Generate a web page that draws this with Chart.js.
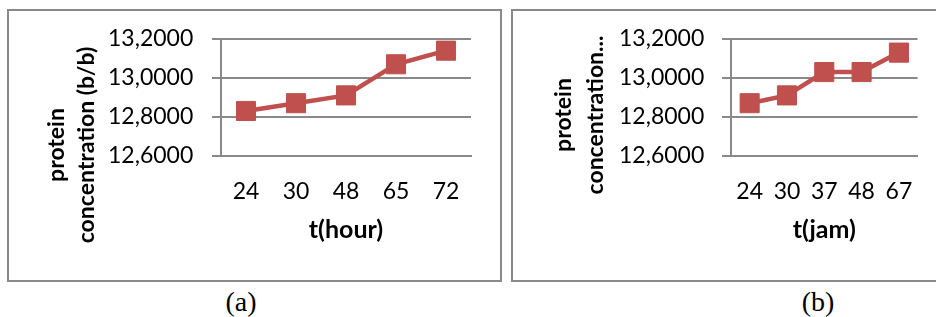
<!DOCTYPE html>
<html>
<head>
<meta charset="utf-8">
<script src="https://cdn.jsdelivr.net/npm/chart.js@4/dist/chart.umd.min.js"></script>
<style>
  html, body { margin: 0; padding: 0; background: #fff; width: 936px; height: 317px; overflow: hidden; }
  .box { position: absolute; box-sizing: border-box; border: 2px solid #898989; }
  canvas { position: absolute; }
  .cap { position: absolute; font-family: "Liberation Serif", "Times New Roman", serif; font-size: 28px; line-height: 28px; color: #000; text-align: center; width: 80px; white-space: nowrap; }
</style>
</head>
<body>
<div class="box" style="left:7px; top:9px; width:495px; height:273px;"></div>
<div class="box" style="left:511px; top:9px; width:440px; height:273px;"></div>
<canvas id="chartA" width="490" height="268" style="left:9px; top:11px;"></canvas>
<canvas id="chartB" width="423" height="268" style="left:513px; top:11px;"></canvas>
<div class="cap" style="left:201px; top:288px;">(a)</div>
<div class="cap" style="left:778px; top:288px;">(b)</div>
<script>
// ---- data ----
const categoriesA = ['24', '30', '48', '65', '72'];
const valuesA = [12.83, 12.87, 12.91, 13.07, 13.14];
const categoriesB = ['24', '30', '37', '48', '67'];
const valuesB = [12.87, 12.91, 13.03, 13.03, 13.13];
const yMin = 12.6;
const yMax = 13.2;
const yStep = 0.2;
const xTitleA = 't(hour)';
const xTitleB = 't(jam)';
const yTitleA = ['protein', 'concentration (b/b)'];
const yTitleB = ['protein', 'concentration...'];

const RED = '#C0504D';
const GRID = '#898989';
const FONT = 'Lato, Carlito, Calibri, "Open Sans", sans-serif';

function makeChart(id, cats, vals, xTitle, yTitle, geo) {
  const canvas = document.getElementById(id);
  const H = canvas.height, W = canvas.width;
  const yTitlePlugin = {
    id: 'yTitle' + id,
    afterDraw(chart) {
      const ctx = chart.ctx;
      ctx.save();
      ctx.font = 'bold 23px ' + FONT;
      ctx.fillStyle = '#000';
      ctx.textAlign = 'center';
      ctx.textBaseline = 'middle';
      yTitle.forEach((t, i) => {
        ctx.save();
        ctx.translate(geo.titleX[i], geo.titleY);
        ctx.rotate(-Math.PI / 2);
        ctx.fillText(t, 0, 0);
        ctx.restore();
      });
      ctx.restore();
    }
  };
  return new Chart(canvas, {
    type: 'line',
    data: {
      labels: cats,
      datasets: [{
        data: vals,
        borderColor: RED,
        backgroundColor: RED,
        borderWidth: 4.5,
        pointStyle: 'rect',
        pointRadius: 13.5,
        pointBorderWidth: 1,
        pointBackgroundColor: RED,
        pointBorderColor: RED,
        tension: 0,
        fill: false
      }]
    },
    options: {
      responsive: false,
      animation: false,
      devicePixelRatio: 1,
      layout: { padding: { left: geo.labelLeft, right: W - geo.plotRight, top: geo.plotTop, bottom: 0 } },
      plugins: { legend: { display: false }, tooltip: { enabled: false } },
      scales: {
        x: {
          type: 'category',
          offset: true,
          grid: { display: false, drawTicks: false },
          border: { display: true, color: GRID, width: 2 },
          ticks: { color: '#000', font: { family: FONT, size: 23 }, padding: 22, maxRotation: 0, autoSkip: false },
          title: { display: true, text: xTitle, color: '#000', font: { family: FONT, size: 25, weight: 'bold' }, padding: { top: 4, bottom: 34 } },
          afterFit(scale) { scale.height = H - geo.plotBottom; }
        },
        y: {
          min: yMin,
          max: yMax,
          grid: { color: GRID, lineWidth: 2, drawTicks: true, tickLength: 9, tickColor: GRID },
          border: { display: true, color: GRID, width: 2 },
          ticks: {
            stepSize: yStep,
            color: '#000',
            font: { family: FONT, size: 23 },
            padding: 0,
            crossAlign: 'far',
            callback: (v) => Number(v).toFixed(4).replace('.', ',')
          },
          afterFit(scale) { scale.width = geo.plotLeft - geo.labelLeft; }
        }
      }
    },
    plugins: [yTitlePlugin]
  });
}

makeChart('chartA', categoriesA, valuesA, xTitleA, yTitleA, {
  labelLeft: 99, plotLeft: 212, plotRight: 462, plotTop: 28, plotBottom: 144.7,
  titleX: [48, 78], titleY: 134
});
makeChart('chartB', categoriesB, valuesB, xTitleB, yTitleB, {
  labelLeft: 106, plotLeft: 218, plotRight: 405.5, plotTop: 28, plotBottom: 144.7,
  titleX: [51, 83], titleY: 104
});
</script>
</body>
</html>
